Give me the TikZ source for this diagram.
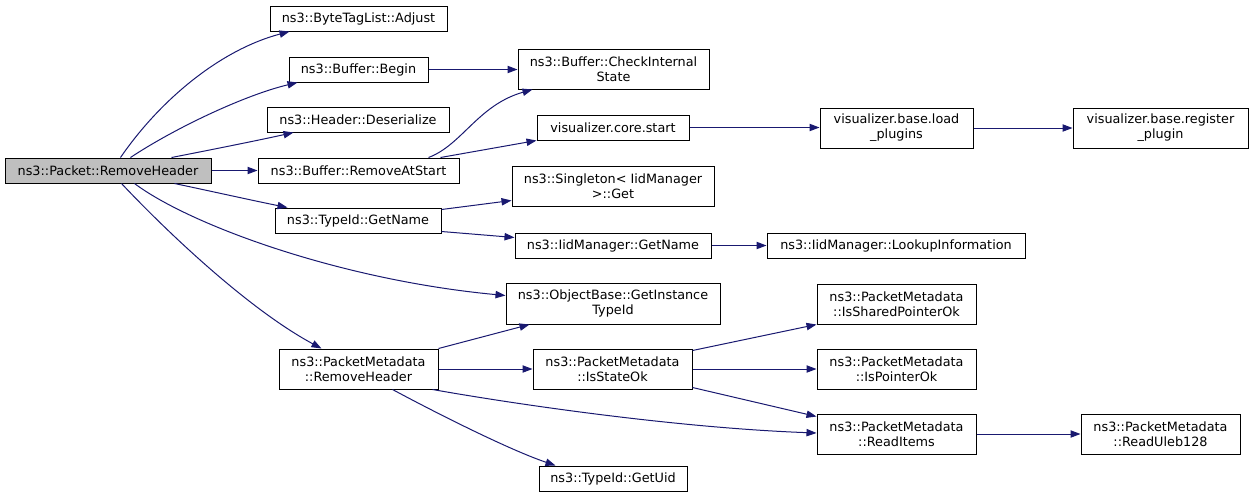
\documentclass[tikz,border=0pt]{standalone}
\usepackage{fontspec}
\setmainfont{DejaVu Sans}
\usetikzlibrary{arrows.meta,calc}
\definecolor{edgeblue}{HTML}{191970}
\definecolor{mainfill}{HTML}{BFBFBF}
\tikzset{
  box/.style={draw=black,line width=0.75pt,fill=white,inner sep=0pt,align=center,
    font=\fontsize{9.6}{11.25}\selectfont},
  edge/.style={draw=edgeblue,line width=0.75pt,-{Triangle[length=7.5pt,width=5.5pt]}},
}
\newcommand\bx[7][]{\node[box,#1,minimum width={(#5-#3)*0.75pt},minimum height={(#6-#4)*0.75pt}] (#2) at ({(#3+#5)/2},{(#4+#6)/2}) {#7};}
\begin{document}
\begin{tikzpicture}[x=0.75pt,y=-0.75pt]
\useasboundingbox (0,0) rectangle (1253,497);
\bx[fill=mainfill]{main}{5}{158}{211}{183}{ns3::Packet::RemoveHeader}
\bx{adjust}{270}{6}{447}{31}{ns3::ByteTagList::Adjust}
\bx{begin}{289}{57}{428}{82}{ns3::Buffer::Begin}
\bx{deser}{267}{107}{449}{132}{ns3::Header::Deserialize}
\bx{ras}{258}{158}{459}{183}{ns3::Buffer::RemoveAtStart}
\bx{tgn}{275}{208}{441}{233}{ns3::TypeId::GetName}
\bx{pmrh}{279}{349}{438}{389}{ns3::PacketMetadata\\::RemoveHeader}
\bx{cis}{518}{49}{709}{89}{ns3::Buffer::CheckInternal\\State}
\bx{vcs}{537}{115}{689}{140}{visualizer.core.start}
\bx{sget}{512}{166}{714}{206}{ns3::Singleton< IidManager\\>::Get}
\bx{ign}{515}{233}{711}{258}{ns3::IidManager::GetName}
\bx{git}{506}{283}{720}{324}{ns3::ObjectBase::GetInstance\\TypeId}
\bx{iso}{533}{349}{692}{389}{ns3::PacketMetadata\\::IsStateOk}
\bx{uid}{539}{466}{687}{491}{ns3::TypeId::GetUid}
\bx{vlp}{820}{108}{973}{148}{visualizer.base.load\\\_plugins}
\bx{vrp}{1073}{108}{1248}{148}{visualizer.base.register\\\_plugin}
\bx{ili}{767}{233}{1025}{258}{ns3::IidManager::LookupInformation}
\bx{ispo}{817}{284}{976}{324}{ns3::PacketMetadata\\::IsSharedPointerOk}
\bx{ipo}{817}{349}{976}{389}{ns3::PacketMetadata\\::IsPointerOk}
\bx{rit}{817}{414}{976}{454}{ns3::PacketMetadata\\::ReadItems}
\bx{rul}{1081}{414}{1240}{454}{ns3::PacketMetadata\\::ReadUleb128}
% edges from main
\draw[edge] ($(main.north west)+(116,0)$) .. controls (160,100) and (220,50) .. ($(adjust.south west)+(20,0)$);
\draw[edge] ($(main.north west)+(126,0)$) .. controls (175,128) and (245,95) .. ($(begin.south west)+(9,0)$);
\draw[edge] ($(main.north west)+(167,0)$) .. controls (210,150) and (260,140) .. ($(deser.south west)+(27,0)$);
\draw[edge] (main.east) -- (ras.west);
\draw[edge] ($(main.south west)+(170,0)$) .. controls (210,191) and (255,201) .. ($(tgn.north west)+(13,0)$);
\draw[edge] ($(main.south west)+(130,0)$) .. controls (190,225) and (340,280) .. ($(git.west)+(0,-8)$);
\draw[edge] ($(main.south west)+(117,0)$) .. controls (170,235) and (250,310) .. ($(pmrh.north west)+(43,0)$);
% second level
\draw[edge] (begin.east) -- (begin.east -| cis.west);
\draw[edge] ($(ras.north east)+(-31,0)$) .. controls (462,145) and (478,105) .. ($(cis.south west)+(15,0)$);
\draw[edge] ($(ras.north east)+(-19,0)$) -- ($(vcs.south west)+(0,0)$);
\draw[edge] (vcs.east) -- (vcs.east -| vlp.west);
\draw[edge] (vlp.east) -- (vrp.west);
\draw[edge] ($(tgn.north east)+(0,2)$) -- ($(sget.south west)+(0,-6)$);
\draw[edge] ($(tgn.south east)+(0,-2)$) -- ($(ign.north west)+(0,5)$);
\draw[edge] (ign.east) -- (ili.west);
\draw[edge] (pmrh.north east) -- ($(git.south west)+(24,0)$);
\draw[edge] (pmrh.east) -- (iso.west);
\draw[edge] ($(pmrh.south east)+(-6,0)$) .. controls (520,405) and (680,428) .. ($(rit.west)+(0,-1)$);
\draw[edge] ($(pmrh.south west)+(114,0)$) .. controls (440,415) and (510,450) .. ($(uid.north west)+(17,0)$);
\draw[edge] ($(iso.north east)+(0,2)$) -- (ispo.south west);
\draw[edge] (iso.east) -- (ipo.west);
\draw[edge] ($(iso.south east)+(0,-2)$) -- ($(rit.north west)+(0,3)$);
\draw[edge] (rit.east) -- (rul.west);
\end{tikzpicture}
\end{document}
